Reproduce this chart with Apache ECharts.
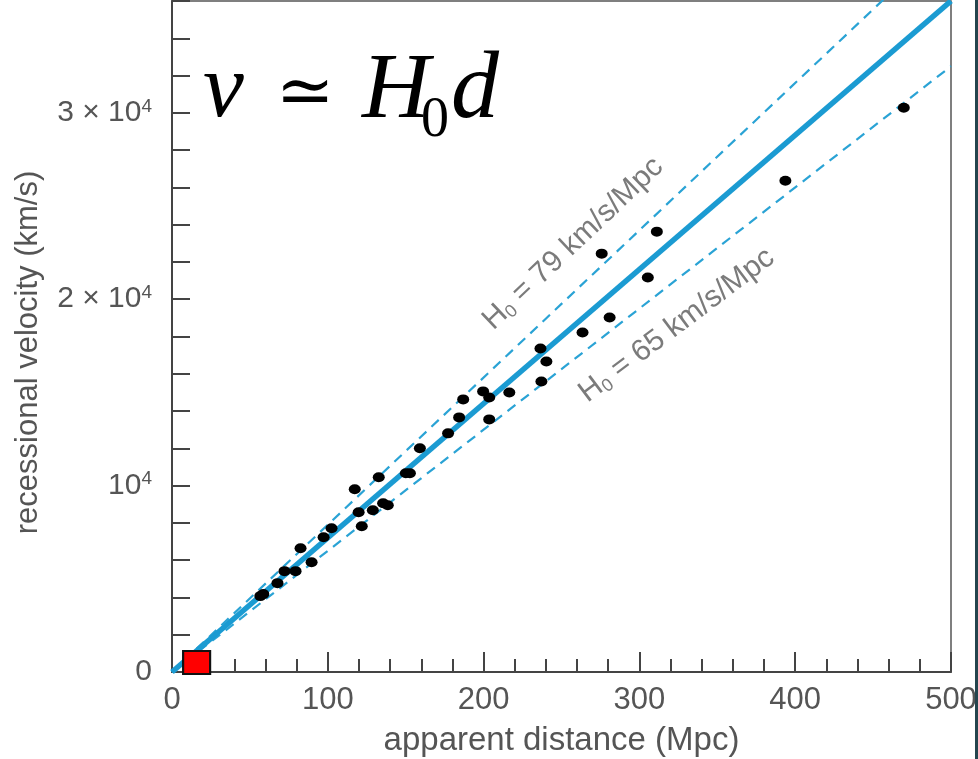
<!DOCTYPE html>
<html>
<head>
<meta charset="utf-8">
<script src="https://cdn.jsdelivr.net/npm/echarts@6/dist/echarts.min.js"></script>
<style>
html,body{margin:0;padding:0;background:#fff;}
#chart{width:978px;height:759px;}
</style>
</head>
<body>
<div id="chart"></div>
<script>
// apparent distance (Mpc)
const distances = [56.7, 58.6, 67.7, 72.2, 79.3, 82.5, 89.6, 97.3, 102.4, 117.3, 119.8, 121.8, 128.9, 132.7, 135.5, 138.5, 150.1, 152.7, 159.1, 177.2, 184.3, 186.9, 199.7, 203.6, 203.6, 216.5, 236.5, 240.3, 237.1, 263.5, 280.9, 275.8, 305.4, 311.2, 393.7, 469.7];
// recessional velocity (km/s)
const velocities = [4071, 4179, 4768, 5411, 5411, 6643, 5893, 7232, 7714, 9803, 8571, 7821, 8679, 10446, 9054, 8946, 10660, 10660, 12000, 12803, 13660, 14625, 15054, 14732, 13553, 15000, 17357, 16661, 15589, 18214, 19018, 22446, 21161, 23625, 26357, 30268];
// Hubble constants (km/s/Mpc)
const H0_fit = 72;
const H0_high = 79;
const H0_low = 65;
// axis extents / ticks
const xMax = 500, xInterval = 100;
const yMax = 36000, yInterval = 2000;
const yLabels = {0: '{n|0}', 10000: '{n|10}{sup|4}', 20000: '{n|2 × 10}{sup|4}', 30000: '{n|3 × 10}{sup|4}'};
// local highlighted galaxy (red square)
const localPoint = [15.8, 509];
// line annotation anchors (data coords)
const labelHigh = [257.5, 22980];
const labelLow = [324, 18600];

const FONT = 'Liberation Sans, Arial, Helvetica, sans-serif';
const lineData = H => [[0, 0], [xMax, xMax * H]];
const pts = distances.map((d, i) => [d, velocities[i]]);

const chart = echarts.init(document.getElementById('chart'), null, {renderer: 'canvas'});
const h0Rich = {
  a: {fontSize: 30, color: '#5a5a5a', fontFamily: FONT, lineHeight: 32},
  b: {fontSize: 18, color: '#5a5a5a', fontFamily: FONT, lineHeight: 18, verticalAlign: 'bottom'}
};
chart.setOption({
  animation: false,
  backgroundColor: '#fff',
  grid: {left: 172, right: 27, top: 1, bottom: 87, show: true, borderColor: '#555', borderWidth: 1.5,
         containLabel: false, outerBoundsMode: 'none'},
  xAxis: {
    type: 'value', min: 0, max: xMax, interval: xInterval,
    axisLine: {show: true, onZero: false, lineStyle: {color: '#444', width: 2}},
    axisTick: {show: true, inside: true, length: 20, lineStyle: {color: '#444', width: 2}},
    minorTick: {show: true, splitNumber: 5, length: 13, lineStyle: {color: '#444', width: 2}},
    splitLine: {show: false}, minorSplitLine: {show: false},
    axisLabel: {fontSize: 31, color: '#555', fontFamily: FONT, margin: 13},
    name: 'apparent distance (Mpc)', nameLocation: 'middle', nameGap: 52,
    nameTextStyle: {fontSize: 33, color: '#555', fontFamily: FONT}
  },
  yAxis: {
    type: 'value', min: 0, max: yMax, interval: yInterval,
    axisLine: {show: true, onZero: false, lineStyle: {color: '#444', width: 2}},
    axisTick: {show: true, inside: true, length: 18, lineStyle: {color: '#444', width: 2}},
    splitLine: {show: false},
    axisLabel: {
      color: '#555', fontFamily: FONT, fontSize: 30, margin: 20,
      formatter: v => (yLabels[v] !== undefined ? yLabels[v] : ''),
      rich: {
        n: {fontSize: 30, lineHeight: 32, color: '#555', fontFamily: FONT},
        sup: {fontSize: 19, lineHeight: 19, verticalAlign: 'top', color: '#555', fontFamily: FONT}
      }
    },
    name: 'recessional velocity (km/s)', nameLocation: 'middle', nameGap: 128,
    nameTextStyle: {fontSize: 31, color: '#555', fontFamily: FONT, padding: [0, 32, 0, 0]}
  },
  series: [
    {type: 'line', data: lineData(H0_high), symbol: 'none', clip: true, z: 2,
     lineStyle: {color: '#2aa3d5', width: 2.2, type: [10, 7]}},
    {type: 'line', data: lineData(H0_low), symbol: 'none', clip: true, z: 2,
     lineStyle: {color: '#2aa3d5', width: 2.2, type: [10, 7]}},
    {type: 'line', data: lineData(H0_fit), symbol: 'none', clip: true, z: 3,
     lineStyle: {color: '#1b9bd2', width: 5.5}},
    {type: 'scatter', data: pts, symbol: 'circle', symbolSize: [12, 10], z: 5,
     itemStyle: {color: '#000', opacity: 1}},
    {type: 'scatter', data: [labelHigh], symbolSize: 0, z: 4, silent: true,
     label: {show: true, position: 'inside', rotate: 43.5, formatter: '{a|H}{b|0}{a| = ' + H0_high + ' km/s/Mpc}', rich: h0Rich}},
    {type: 'scatter', data: [labelLow], symbolSize: 0, z: 4, silent: true,
     label: {show: true, position: 'inside', rotate: 37, formatter: '{a|H}{b|0}{a| = ' + H0_low + ' km/s/Mpc}', rich: h0Rich}},
    {type: 'scatter', data: [localPoint], symbol: 'rect', symbolSize: [27, 23], z: 6,
     itemStyle: {color: '#ff0000', borderColor: '#111', borderWidth: 2, opacity: 1}}
  ],
  graphic: [
    {type: 'rect', right: 0, top: 0, shape: {width: 3, height: 759}, style: {fill: '#24454e'}, z: 10},
    {type: 'text', z: 10, style: {x: 203, y: 92, text: 'v', font: 'italic 92px "Liberation Serif", serif', fill: '#000', verticalAlign: 'middle'}},
    {type: 'text', z: 10, style: {x: 276, y: 96, text: '≃', font: '70px "DejaVu Serif", serif', fill: '#000', verticalAlign: 'middle'}},
    {type: 'text', z: 10, style: {x: 362, y: 92, text: 'H', font: 'italic 94px "Liberation Serif", serif', fill: '#000', verticalAlign: 'middle'}},
    {type: 'text', z: 10, style: {x: 421, y: 121, text: '0', font: '56px "Liberation Serif", serif', fill: '#000', verticalAlign: 'middle'}},
    {type: 'text', z: 10, style: {x: 451, y: 92, text: 'd', font: 'italic 96px "Liberation Serif", serif', fill: '#000', verticalAlign: 'middle'}}
  ]
});
</script>
</body>
</html>
